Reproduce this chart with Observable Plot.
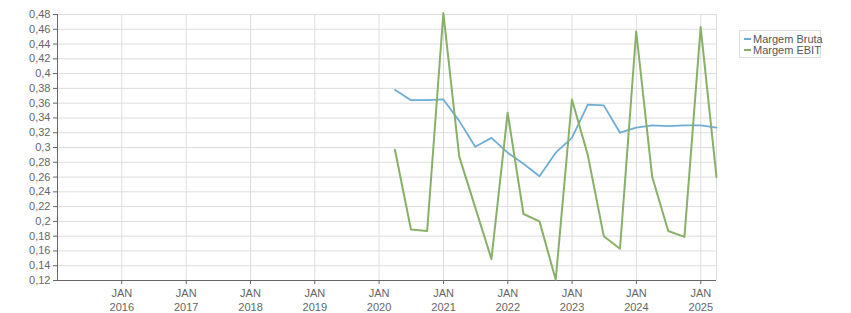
<!DOCTYPE html>
<html>
<head>
<meta charset="utf-8">
<script src="https://cdn.jsdelivr.net/npm/d3@7"></script>
<script src="https://cdn.jsdelivr.net/npm/@observablehq/plot@0.6"></script>
<style>
  html, body { margin: 0; padding: 0; background: #fff; }
  #wrap { position: relative; width: 851px; height: 313px; }
  #legend { position: absolute; left: 739px; top: 30px; width: 82px; height: 28px;
    border: 1px solid #dddddd; font: 11px "Liberation Sans", Arial, sans-serif; color: #555; box-sizing: border-box; }
  .item { position: absolute; left: 4px; height: 12px; line-height: 12px; white-space: nowrap; }
  .swatch { display: inline-block; width: 7px; height: 2px; vertical-align: middle; margin-right: 2px; position: relative; top: -1px; }
</style>
</head>
<body>
<div id="wrap"></div>
<script>
const quarters = [
  "2020-03-31","2020-06-30","2020-09-30","2020-12-31",
  "2021-03-31","2021-06-30","2021-09-30","2021-12-31",
  "2022-03-31","2022-06-30","2022-09-30","2022-12-31",
  "2023-03-31","2023-06-30","2023-09-30","2023-12-31",
  "2024-03-31","2024-06-30","2024-09-30","2024-12-31",
  "2025-03-31"
];
const margemBruta = [0.378,0.364,0.364,0.365, 0.336,0.301,0.313,0.293, 0.278,0.261,0.293,0.313, 0.358,0.357,0.320,0.327, 0.330,0.329,0.330,0.330, 0.327];
const margemEBIT  = [0.297,0.189,0.187,0.482, 0.288,0.219,0.149,0.347, 0.210,0.200,0.121,0.365, 0.290,0.180,0.163,0.457, 0.260,0.187,0.179,0.463, 0.260];
const seriesNames = ["Margem Bruta", "Margem EBIT"];
const seriesColors = ["#6eadd4", "#88b068"];
const xDomain = ["2015-01-01", "2025-03-31"];
const yDomain = [0.12, 0.48];
const yTicks = d3.range(0.12, 0.4801, 0.02).map(v => +v.toFixed(2));
const xTickYears = [2016,2017,2018,2019,2020,2021,2022,2023,2024,2025];
const monthLabel = "JAN";

const parse = d3.utcParse("%Y-%m-%d");
const data = [];
quarters.forEach((q, i) => {
  data.push({date: parse(q), value: margemBruta[i], series: seriesNames[0]});
  data.push({date: parse(q), value: margemEBIT[i], series: seriesNames[1]});
});
const xTicks = xTickYears.map(y => new Date(Date.UTC(y, 0, 1)));
const fmtY = d => String(+d.toFixed(2)).replace(".", ",");

const chart = Plot.plot({
  width: 851,
  height: 313,
  marginLeft: 57,
  marginRight: 135,
  marginTop: 14,
  marginBottom: 33,
  style: {fontFamily: "'Liberation Sans', Arial, sans-serif", fontSize: "11px", color: "#666", background: "#fff"},
  x: {type: "utc", domain: xDomain.map(parse)},
  y: {domain: yDomain},
  color: {domain: seriesNames, range: seriesColors},
  marks: [
    Plot.gridY(yTicks, {stroke: "#dddddd", strokeOpacity: 1}),
    Plot.gridX(xTicks, {stroke: "#dddddd", strokeOpacity: 1}),
    Plot.ruleX([parse(xDomain[1])], {stroke: "#dddddd"}),
    Plot.ruleX([parse(xDomain[0])], {stroke: "#666666"}),
    Plot.ruleY([yDomain[0]], {stroke: "#666666"}),
    Plot.axisY(yTicks, {tickFormat: fmtY, tickSize: 4, tickPadding: 3, stroke: "#666", fill: "#666", label: null}),
    Plot.axisX(xTicks, {tickFormat: d => monthLabel + "\n" + d.getUTCFullYear(), tickSize: 4, tickPadding: 3, lineHeight: 1.25, stroke: "#666", fill: "#666", label: null}),
    Plot.lineY(data.filter(d => d.series === seriesNames[0]), {x: "date", y: "value", stroke: seriesColors[0], strokeWidth: 1.8}),
    Plot.lineY(data.filter(d => d.series === seriesNames[1]), {x: "date", y: "value", stroke: seriesColors[1], strokeWidth: 2}),
  ]
});

const wrap = document.getElementById("wrap");
wrap.appendChild(chart);
const legend = document.createElement("div");
legend.id = "legend";
seriesNames.forEach((name, i) => {
  const it = document.createElement("div");
  it.className = "item";
  it.style.top = (2 + i * 11) + "px";
  it.innerHTML = `<span class="swatch" style="background:${seriesColors[i]}"></span>${name}`;
  legend.appendChild(it);
});
wrap.appendChild(legend);
</script>
</body>
</html>
